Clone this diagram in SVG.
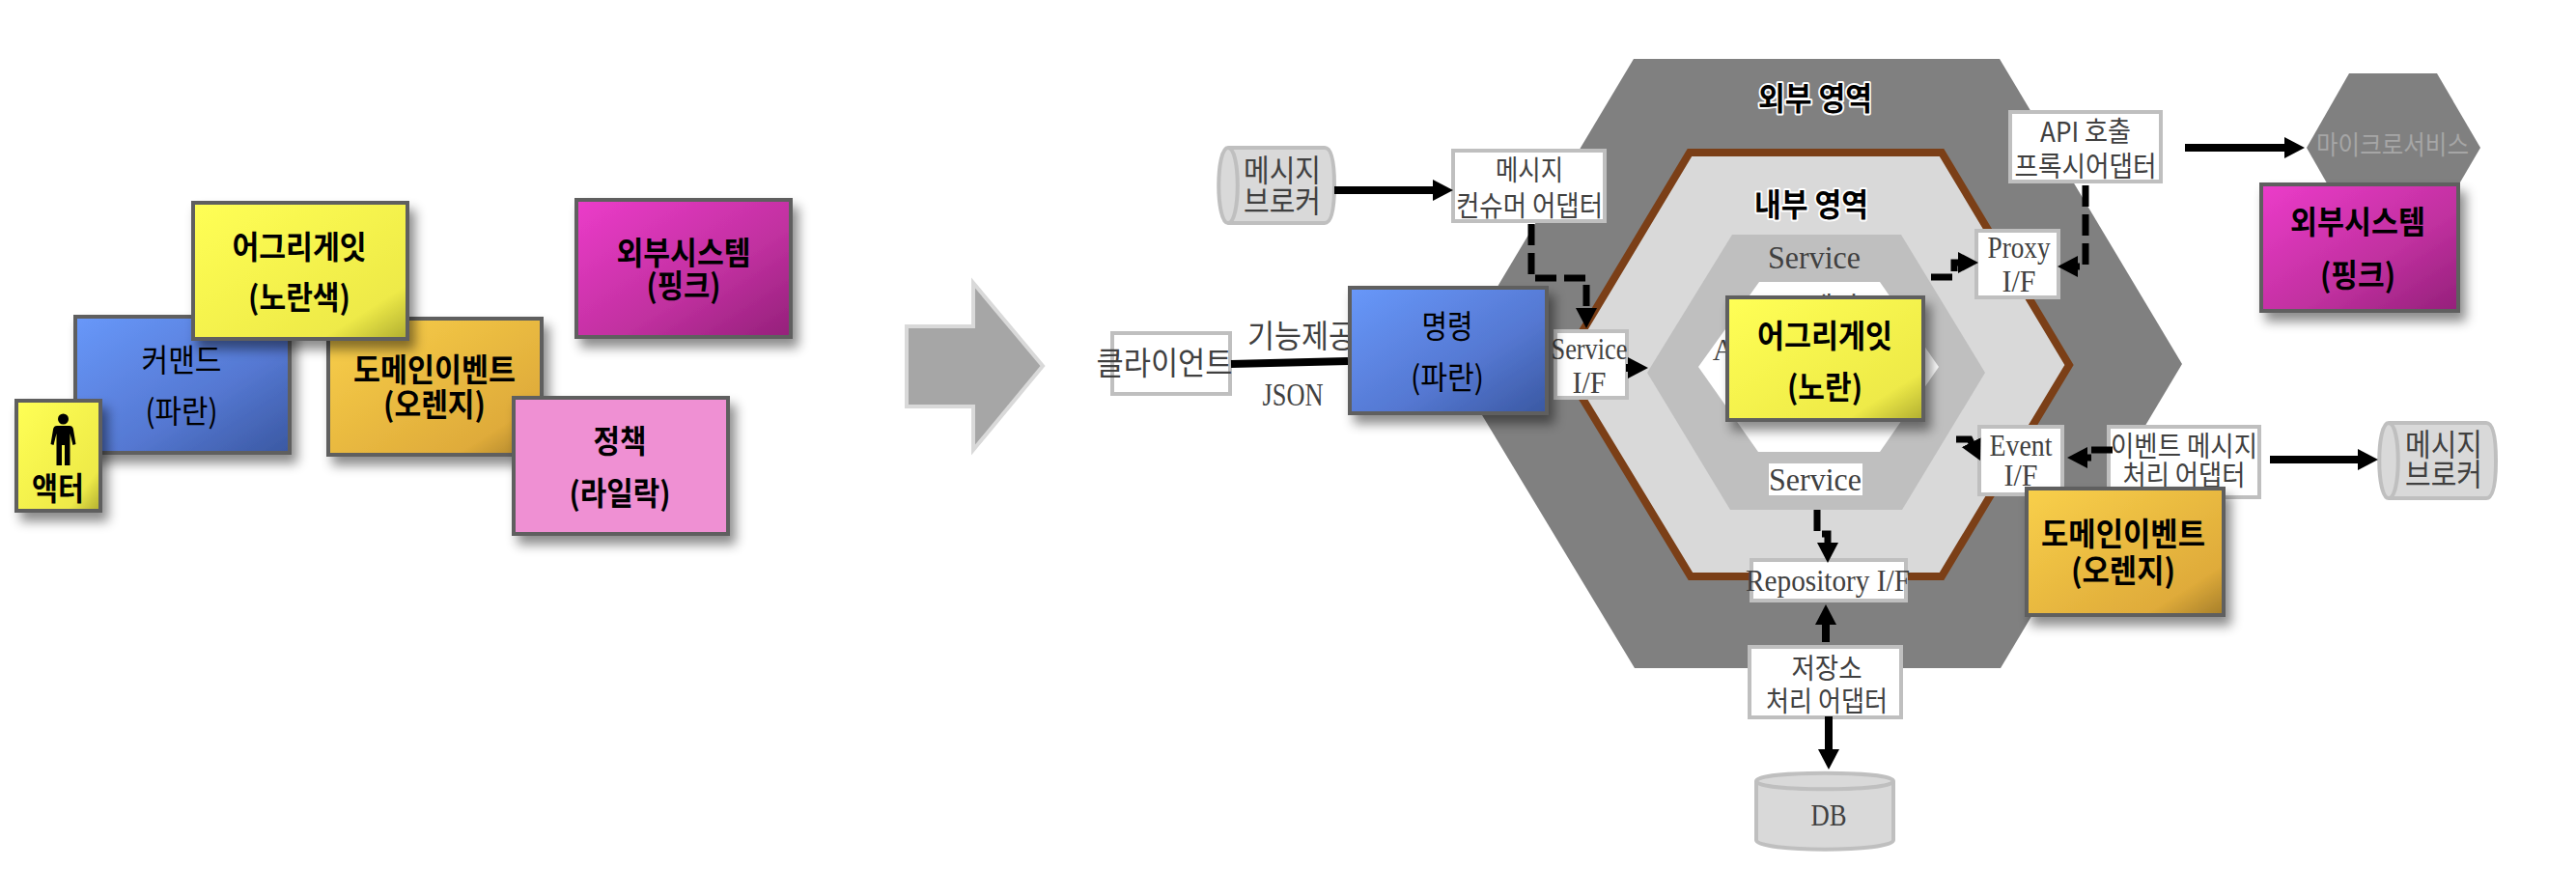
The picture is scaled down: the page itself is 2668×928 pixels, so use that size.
<svg xmlns="http://www.w3.org/2000/svg" width="2668" height="928" viewBox="0 0 2668 928">
<style>
text{text-anchor:middle}
.k{font-family:"Noto Sans CJK KR","Noto Sans",sans-serif;font-size:33px;fill:#000}
.b{font-weight:700}
.g{font-family:"Noto Sans CJK KR","Noto Sans",sans-serif;font-size:29px;fill:#404040}
.g32{font-size:32px}
.g33{font-size:33px}
.s{font-family:"Liberation Serif","Noto Sans CJK KR",serif;font-size:31px;fill:#404040}
.s34{font-size:34px}
.h{font-family:"Noto Sans CJK KR","Noto Sans",sans-serif;font-size:33px;font-weight:700;fill:#000;stroke:#fff;stroke-width:4px;paint-order:stroke;stroke-linejoin:round}
.box{fill:#fff;stroke:#bfbfbf;stroke-width:4}
.cyl{fill:#d9d9d9;stroke:#bfbfbf;stroke-width:4}
.st{stroke:#5f5f5f;stroke-width:4;filter:url(#sh)}
.c{fill:none;stroke:#000;stroke-width:8}
.a{marker-end:url(#ah)}
.d{stroke-width:7;stroke-dasharray:22 8}
</style>
<defs>
<filter id="sh" x="-15%" y="-15%" width="140%" height="140%"><feDropShadow dx="6" dy="9" stdDeviation="6" flood-color="#000" flood-opacity=".45"/></filter>
<linearGradient id="gy" x1="0" y1="0" x2="1" y2="1"><stop offset="0" stop-color="#ffff55"/><stop offset=".8" stop-color="#eeea48"/><stop offset="1" stop-color="#b0ad30"/></linearGradient>
<linearGradient id="gb" x1="0" y1="0" x2="1" y2="1"><stop offset="0" stop-color="#6898fa"/><stop offset=".6" stop-color="#5578d2"/><stop offset="1" stop-color="#3a58a2"/></linearGradient>
<linearGradient id="go" x1="0" y1="0" x2="1" y2="1"><stop offset="0" stop-color="#f9d04a"/><stop offset=".8" stop-color="#dfab3a"/><stop offset="1" stop-color="#a57e2a"/></linearGradient>
<linearGradient id="gp" x1="0" y1="0" x2="1" y2="1"><stop offset="0" stop-color="#ec3cca"/><stop offset=".6" stop-color="#c0309f"/><stop offset="1" stop-color="#94207a"/></linearGradient>
<marker id="ah" markerUnits="userSpaceOnUse" markerWidth="22" markerHeight="24" refX="1" refY="12" orient="auto"><path d="M0 1L21 12L0 23Z" fill="#000"/></marker>
</defs>
<rect width="2668" height="928" fill="#fff"/>

<g id="legend-command"><rect class="st" x="78" y="328" width="222" height="141" fill="url(#gb)"/><text class="k" x="188" y="385" textLength="83" lengthAdjust="spacingAndGlyphs">커맨드</text><text class="k" x="188" y="438" textLength="75" lengthAdjust="spacingAndGlyphs">(파란)</text></g>
<g id="legend-event"><rect class="st" x="340" y="330" width="221" height="141" fill="url(#go)"/><text class="k b" x="450" y="395" textLength="168" lengthAdjust="spacingAndGlyphs">도메인이벤트</text><text class="k b" x="450" y="431" textLength="106" lengthAdjust="spacingAndGlyphs">(오렌지)</text></g>
<g id="legend-aggregate"><rect class="st" x="200" y="210" width="222" height="141" fill="url(#gy)"/><text class="k b" x="310" y="268" textLength="139" lengthAdjust="spacingAndGlyphs">어그리게잇</text><text class="k b" x="310" y="320" textLength="106" lengthAdjust="spacingAndGlyphs">(노란색)</text></g>
<g id="legend-external"><rect class="st" x="597" y="207" width="222" height="142" fill="url(#gp)"/><text class="k b" x="708" y="274" textLength="139" lengthAdjust="spacingAndGlyphs">외부시스템</text><text class="k b" x="708" y="308" textLength="77" lengthAdjust="spacingAndGlyphs">(핑크)</text></g>
<g id="legend-policy"><rect class="st" x="532" y="412" width="222" height="141" fill="#ef90d3"/><text class="k b" x="642" y="469" textLength="55" lengthAdjust="spacingAndGlyphs">정책</text><text class="k b" x="642" y="523" textLength="105" lengthAdjust="spacingAndGlyphs">(라일락)</text></g>
<g id="legend-actor"><rect class="st" x="17" y="415" width="87" height="114" fill="url(#gy)"/>
<circle cx="65.5" cy="434" r="5.5" fill="#000"/>
<path d="M59 441H72Q75.500 441 76 445L78.500 460L75.500 461L72.500 449V482H67V461H64V482H58.500V449L55.500 461L52.500 460L55 445Q55.500 441 59 441Z" fill="#000"/>
<text class="k b" x="60" y="518" textLength="54" lengthAdjust="spacingAndGlyphs">액터</text></g>

<g id="big-arrow"><path d="M939 338H1008V293L1080 379L1008 466V421H939Z" fill="#a6a6a6" stroke="#d9d9d9" stroke-width="4"/></g>

<g id="outer-area"><path d="M1692 61H2071L2260 377L2072 692H1693L1503 377Z" fill="#808080"/><text class="h" x="1880" y="114" textLength="118" lengthAdjust="spacingAndGlyphs">외부 영역</text></g>
<g id="inner-area"><path d="M1750 158H2011L2143 378L2011 597H1751L1618 378Z" fill="#d9d9d9" stroke="#7b3f17" stroke-width="8"/><text class="h" x="1876" y="224" textLength="118" lengthAdjust="spacingAndGlyphs">내부 영역</text></g>
<g id="service-ring"><path d="M1794 243H1969L2056 386L1970 528H1792L1706 386Z" fill="#bfbfbf"/><text class="s s34" x="1879" y="278" textLength="96" lengthAdjust="spacingAndGlyphs">Service</text></g>
<g id="core"><path d="M1822 292H1947L2008 380L1947 468H1821L1759 380Z" fill="#fff"/><text class="g" x="1885" y="329">프레임</text><text class="s" x="1785" y="373">A</text></g>
<g id="service-bottom"><rect x="1832" y="480" width="97" height="33" fill="#fff"/><text class="s s34" x="1880" y="508" textLength="96" lengthAdjust="spacingAndGlyphs">Service</text></g>

<g id="broker-left"><path class="cyl" d="M1272 153H1372Q1382 153 1382 192Q1382 231 1372 231H1272C1259 231 1259 153 1272 153Z"/><path d="M1272 153C1285 153 1285 231 1272 231" fill="none" stroke="#bfbfbf" stroke-width="4"/><text class="g g32" x="1328" y="188" textLength="80" lengthAdjust="spacingAndGlyphs">메시지</text><text class="g g32" x="1328" y="220" textLength="80" lengthAdjust="spacingAndGlyphs">브로커</text></g>
<g id="consumer-adapter"><rect class="box" x="1505" y="156" width="157" height="73"/><text class="g" x="1584" y="187" textLength="70" lengthAdjust="spacingAndGlyphs">메시지</text><text class="g" x="1584" y="224" textLength="152" lengthAdjust="spacingAndGlyphs">컨슈머 어댑터</text></g>
<g id="client"><rect class="box" x="1152" y="345" width="122" height="63"/><text class="g g33" x="1206" y="388" textLength="141" lengthAdjust="spacingAndGlyphs">클라이언트</text></g>
<text class="g g33" x="1348" y="360" textLength="112" lengthAdjust="spacingAndGlyphs">기능제공</text>
<text class="s s34" x="1339" y="420" textLength="63" lengthAdjust="spacingAndGlyphs">JSON</text>
<g id="service-if"><rect class="box" x="1611" y="343" width="74" height="69"/><text class="s" x="1646" y="372" textLength="79" lengthAdjust="spacingAndGlyphs">Service</text><text class="s" x="1646" y="407" textLength="35" lengthAdjust="spacingAndGlyphs">I/F</text></g>
<g id="api-adapter"><rect class="box" x="2082" y="116" width="156" height="72"/><text class="g" x="2160" y="147" textLength="94" lengthAdjust="spacingAndGlyphs">API 호출</text><text class="g" x="2160" y="183" textLength="147" lengthAdjust="spacingAndGlyphs">프록시어댑터</text></g>
<g id="proxy-if"><rect class="box" x="2047" y="239" width="85" height="69"/><text class="s" x="2091" y="267" textLength="65" lengthAdjust="spacingAndGlyphs">Proxy</text><text class="s" x="2091" y="302" textLength="35" lengthAdjust="spacingAndGlyphs">I/F</text></g>
<g id="event-if"><rect class="box" x="2050" y="442" width="86" height="70"/><text class="s" x="2093" y="472" textLength="65" lengthAdjust="spacingAndGlyphs">Event</text><text class="s" x="2093" y="503" textLength="35" lengthAdjust="spacingAndGlyphs">I/F</text></g>
<g id="event-adapter"><rect class="box" x="2184" y="442" width="156" height="73"/><text class="g" x="2262" y="473" textLength="152" lengthAdjust="spacingAndGlyphs">이벤트 메시지</text><text class="g" x="2262" y="503" textLength="127" lengthAdjust="spacingAndGlyphs">처리 어댑터</text></g>
<g id="repository-if"><rect class="box" x="1814" y="580" width="160" height="42"/><text class="s" x="1893" y="612" textLength="170" lengthAdjust="spacingAndGlyphs">Repository I/F</text></g>
<g id="store-adapter"><rect class="box" x="1812" y="670" width="157" height="73"/><text class="g" x="1892" y="703" textLength="73" lengthAdjust="spacingAndGlyphs">저장소</text><text class="g" x="1892" y="737" textLength="126" lengthAdjust="spacingAndGlyphs">처리 어댑터</text></g>
<g id="db"><path class="cyl" d="M1819 809C1819 798 1961 798 1961 809V870C1961 883 1819 883 1819 870Z"/><path d="M1819 809C1819 820 1961 820 1961 809" fill="none" stroke="#bfbfbf" stroke-width="4"/><text class="s" x="1894" y="855" textLength="37" lengthAdjust="spacingAndGlyphs">DB</text></g>
<g id="broker-right"><path class="cyl" d="M2474 438H2575Q2585 438 2585 477Q2585 516 2575 516H2474C2461 516 2461 438 2474 438Z"/><path d="M2474 438C2487 438 2487 516 2474 516" fill="none" stroke="#bfbfbf" stroke-width="4"/><text class="g g32" x="2531" y="472" textLength="80" lengthAdjust="spacingAndGlyphs">메시지</text><text class="g g32" x="2531" y="503" textLength="80" lengthAdjust="spacingAndGlyphs">브로커</text></g>
<g id="microservice"><path d="M2389 153L2433 76H2524L2569 153L2524 230H2433Z" fill="#808080"/><text class="g" style="font-size:27px;fill:#a6a6a6" x="2478" y="160" textLength="158" lengthAdjust="spacingAndGlyphs">마이크로서비스</text></g>

<g id="connectors">
<path class="c a" d="M1382 197H1485"/>
<path class="c d a" d="M1586 232V288H1643V320"/>
<path class="c" d="M1275 377L1396 374"/>
<path class="c a" d="M1684 381H1687"/>
<path class="c a" d="M2263 153H2367"/>
<path class="c d a" d="M2160 192V276H2151"/>
<path class="c d a" d="M2000 287H2024V272H2029"/>
<path class="c d a" d="M2026 455H2040L2042 459"/>
<path class="c d a" d="M2188 466H2166V474H2161"/>
<path class="c a" d="M2351 476H2443"/>
<path class="c d a" d="M1882 528V553H1893V563"/>
<path class="c a" d="M1891 665V646"/>
<path class="c a" d="M1894 742V777"/>
</g>

<g id="command"><rect class="st" x="1398" y="298" width="204" height="130" fill="url(#gb)"/><text class="k" x="1499" y="350" textLength="53" lengthAdjust="spacingAndGlyphs">명령</text><text class="k" x="1499" y="403" textLength="76" lengthAdjust="spacingAndGlyphs">(파란)</text></g>
<g id="aggregate"><rect class="st" x="1789" y="308" width="203" height="127" fill="url(#gy)"/><text class="k b" x="1890" y="360" textLength="140" lengthAdjust="spacingAndGlyphs">어그리게잇</text><text class="k b" x="1890" y="413" textLength="78" lengthAdjust="spacingAndGlyphs">(노란)</text></g>
<g id="domain-event"><rect class="st" x="2099" y="506" width="204" height="131" fill="url(#go)"/><text class="k b" x="2199" y="565" textLength="170" lengthAdjust="spacingAndGlyphs">도메인이벤트</text><text class="k b" x="2199" y="603" textLength="108" lengthAdjust="spacingAndGlyphs">(오렌지)</text></g>
<g id="external-system"><rect class="st" x="2342" y="191" width="204" height="131" fill="url(#gp)"/><text class="k b" x="2442" y="242" textLength="140" lengthAdjust="spacingAndGlyphs">외부시스템</text><text class="k b" x="2442" y="297" textLength="78" lengthAdjust="spacingAndGlyphs">(핑크)</text></g>
</svg>
